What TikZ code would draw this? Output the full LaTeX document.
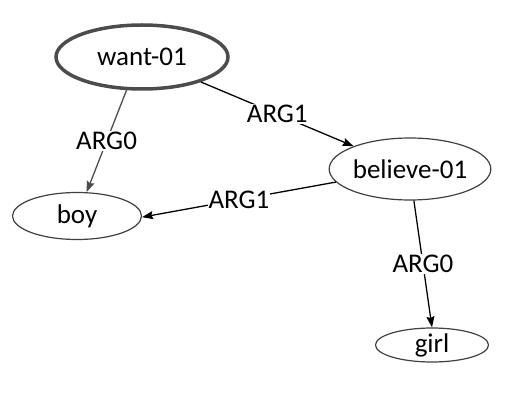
\documentclass[tikz,border=0pt]{standalone}
\usepackage{fontspec}
\setmainfont{Carlito}
\usetikzlibrary{arrows.meta,shapes.geometric}
\begin{document}
\begin{tikzpicture}[x=1pt,y=-1pt,
  every node/.style={font=\fontsize{27}{30}\selectfont},
  concept/.style={ellipse,draw=black!75,line width=1.2pt,inner sep=0pt},
  root/.style={concept,line width=3.5pt,draw=black!70},
  lbl/.style={fill=white,inner sep=1pt},
  rel/.style={line width=1.3pt,-{Stealth[length=11pt,width=8pt,inset=1.5pt]}}]
\useasboundingbox (0,0) rectangle (513,406);
\node[root,minimum width=172pt,minimum height=64pt] (want) at (142,57) {want-01};
\node[concept,minimum width=160pt,minimum height=62pt] (believe) at (410,169) {believe-01};
\node[concept,minimum width=129pt,minimum height=47pt] (boy) at (77,216) {boy};
\node[concept,minimum width=113pt,minimum height=34pt] (girl) at (432,345) {girl};
\draw[rel,draw=black!70] (want.245) -- node[lbl] (l1) {ARG0} (boy.68);
\draw[rel] (want.337) -- node[lbl] (l2) {ARG1} (believe.158);
\draw[rel] (believe.190) -- node[lbl] (l3) {ARG1} (boy.359);
\draw[rel] (believe.277) -- node[lbl] (l4) {ARG0} (girl.90);
\end{tikzpicture}
\end{document}
